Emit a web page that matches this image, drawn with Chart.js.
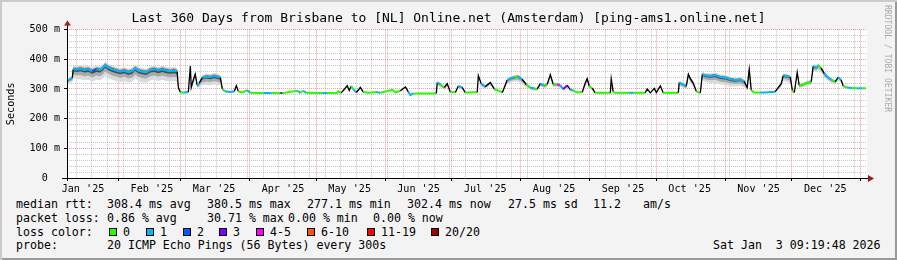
<!DOCTYPE html>
<html>
<head>
<meta charset="utf-8">
<script src="https://cdn.jsdelivr.net/npm/chart.js@4.4.1/dist/chart.umd.min.js"></script>
<style>
  html, body { margin: 0; padding: 0; background: #f3f3f3; }
  #wrap {
    position: relative; width: 897px; height: 260px; overflow: hidden;
    background: #f3f3f3;
    box-shadow: inset 2px 2px 0 #cbcbcb, inset -2px -2px 0 #999;
    font-family: 'DejaVu Sans Mono', monospace;
  }
  #box { position: absolute; left: 0; top: 0; width: 897px; height: 196px; }
  .t { position: absolute; font-size: 11.6px; line-height: 14px; white-space: pre; color: #000; }
  .sw { position: absolute; width: 6px; height: 6px; border: 1px solid #000; }
  #rrd {
    position: absolute; left: 883px; top: 5px; writing-mode: vertical-rl;
    font-size: 8.1px; line-height: 9px; color: #aaa; white-space: pre;
  }
</style>
</head>
<body>
<div id="wrap">
  <div id="box"><canvas id="chart"></canvas></div>
  <div id="rrd">RRDTOOL / TOBI OETIKER</div>

  <div class="t" style="left:16px;top:196.5px">median rtt:</div>
  <div class="t" style="left:107px;top:196.5px">308.4 ms avg</div>
  <div class="t" style="left:207px;top:196.5px">380.5 ms max</div>
  <div class="t" style="left:307px;top:196.5px">277.1 ms min</div>
  <div class="t" style="left:407px;top:196.5px">302.4 ms now</div>
  <div class="t" style="left:508px;top:196.5px">27.5 ms sd</div>
  <div class="t" style="left:593px;top:196.5px">11.2</div>
  <div class="t" style="left:643px;top:196.5px">am/s</div>

  <div class="t" style="left:16px;top:210.5px">packet loss:</div>
  <div class="t" style="left:107px;top:210.5px">0.86 % avg</div>
  <div class="t" style="left:207px;top:210.5px">30.71 % max</div>
  <div class="t" style="left:288px;top:210.5px">0.00 % min</div>
  <div class="t" style="left:373px;top:210.5px">0.00 % now</div>

  <div class="t" style="left:16px;top:224.5px">loss color:</div>
  <div id="lossRow"></div>

  <div class="t" style="left:16px;top:238.2px">probe:</div>
  <div class="t" style="left:107px;top:238.2px">20 ICMP Echo Pings (56 Bytes) every 300s</div>
  <div class="t" style="left:713px;top:238.2px">Sat Jan  3 09:19:48 2026</div>
</div>

<script>
// time axis: days since the start of the 360 day window
const T0 = Date.UTC(2025, 0, 8, 19);
const dayOf = (y, m, d) => (Date.UTC(y, m, d) - T0) / 864e5;

const monthLabels = ["Jan '25", "Feb '25", "Mar '25", "Apr '25", "May '25", "Jun '25",
                     "Jul '25", "Aug '25", "Sep '25", "Oct '25", "Nov '25", "Dec '25"];
const yTicks = [0, 100, 200, 300, 400, 500];

// loss buckets (20 pings)
const lossLabels = ['0', '1', '2', '3', '4-5', '6-10', '11-19', '20/20'];
const lossColors = ['#26ff00', '#00b8ff', '#0059ff', '#7e00ff', '#ff00ff', '#ff5500', '#ff0000', '#a00000'];

// median rtt samples
const days = [
  0, 1.5, 2.4, 2.8, 4.2, 6.0, 7.8, 9.6, 11.4, 13.2,
  15.0, 16.3, 17.2, 18.6, 20.4, 22.2, 24.0, 25.8, 27.6, 29.4,
  30.7, 32.1, 33.9, 35.7, 37.5, 39.3, 41.1, 42.9, 44.7, 46.5,
  48.3, 49.6, 50.1, 51.0, 52.8, 54.6, 55.5, 55.9, 56.8, 57.7,
  58.6, 59.5, 60.9, 62.7, 64.5, 66.3, 68.1, 69.0, 69.9, 71.2,
  73.5, 75.3, 76.2, 77.1, 78.9, 81.1, 82.5, 87, 88.5, 92,
  96, 97, 103.6, 105.0, 106.3, 107.7, 115, 117, 121.6, 122.1,
  123.4, 126.1, 127.0, 127.9, 128.8, 130.2, 132.0, 133.3, 135.6, 139.2,
  141.0, 146.4, 147.8, 150.0, 152.3, 153.6, 154.5, 155.8, 166.2, 166.6,
  168.0, 169.8, 171.1, 172.5, 174.8, 176.1, 177.9, 179.2, 184.6, 185.1,
  186.4, 188.2, 190.5, 192.3, 195.0, 195.9, 198.1, 199.5, 201.3, 203.1,
  204.9, 206.7, 208.5, 210.3, 211.6, 213.0, 214.8, 216.1, 217.5, 218.8,
  220.6, 222.0, 223.3, 225.1, 226.5, 227.8, 229.6, 231.9, 233.2, 234.1,
  235.0, 236.4, 237.7, 244.5, 244.9, 245.8, 246.7, 253, 255, 260.2,
  261.1, 262.5, 264.3, 265.2, 267.0, 268.3, 275.1, 275.5, 277.3, 278.7,
  279.6, 280.5, 281.8, 283.2, 285.0, 285.9, 287.2, 289.5, 291.7, 294.0,
  296.2, 298.5, 300.7, 303.0, 304.8, 306.1, 307.0, 307.9, 309.3, 312,
  314, 318.7, 320.1, 321.4, 322.3, 323.7, 325.5, 326.4, 327.3, 328.6,
  329.5, 331.3, 333.1, 334.9, 335.8, 337.2, 338.1, 339.4, 340.8, 342.1,
  343.9, 345.7, 347.1, 348.4, 349.3, 351.1, 353.4, 355.6, 357.8, 359.6
];
const medianMs = [
  327, 334, 338, 367, 365, 368, 364, 366, 360, 366,
  364, 372, 380, 372, 366, 362, 358, 362, 356, 360,
  370, 362, 358, 356, 364, 366, 362, 366, 362, 360,
  362, 358, 306, 289, 288, 290, 377, 305, 330, 350,
  312, 320, 338, 342, 340, 344, 340, 338, 300, 292,
  290, 292, 311, 292, 288, 296, 287, 286, 286, 286,
  286, 286, 294, 287, 294, 287, 286, 286, 287, 292,
  287, 311, 295, 310, 300, 288, 305, 290, 287, 290,
  287, 297, 288, 294, 307, 290, 279, 285, 285, 322,
  316, 305, 318, 290, 289, 310, 305, 288, 289, 345,
  318, 308, 322, 300, 292, 288, 330, 336, 340, 342,
  332, 315, 305, 302, 300, 318, 312, 316, 348, 316,
  316, 312, 300, 312, 298, 295, 288, 290, 320, 335,
  310, 302, 287, 287, 334, 290, 287, 287, 287, 287,
  300, 287, 302, 288, 310, 287, 287, 322, 315, 310,
  350, 335, 320, 292, 287, 350, 345, 344, 346, 340,
  338, 333, 330, 332, 325, 305, 366, 296, 288, 288,
  288, 291, 305, 318, 345, 344, 340, 295, 288, 356,
  312, 316, 322, 325, 377, 372, 380, 370, 352, 342,
  332, 325, 340, 330, 310, 305, 303, 302, 302, 302
];
// lost pings out of 20 for each sample
const lostPings = [
  1, 1, 1, 1, 1, 1, 1, 1, 2, 1,
  1, 1, 1, 1, 1, 1, 1, 1, 1, 1,
  1, 1, 1, 1, 1, 1, 1, 1, 1, 1,
  1, 1, 1, 0, 1, 0, 1, 3, 1, 0,
  1, 1, 1, 1, 1, 1, 1, 1, 0, 1,
  1, 1, 1, 0, 0, 1, 0, 0, 1, 0,
  3, 0, 1, 0, 1, 0, 1, 0, 0, 0,
  0, 0, 1, 0, 1, 0, 0, 0, 0, 1,
  0, 0, 0, 0, 0, 1, 1, 0, 0, 1,
  0, 1, 0, 0, 0, 1, 0, 0, 0, 1,
  1, 0, 1, 0, 0, 0, 1, 1, 0, 1,
  1, 0, 1, 0, 0, 1, 0, 1, 1, 0,
  5, 1, 3, 5, 1, 0, 0, 0, 1, 1,
  0, 1, 0, 0, 0, 0, 0, 1, 0, 0,
  3, 0, 3, 0, 0, 0, 0, 1, 1, 0,
  1, 1, 1, 0, 0, 1, 1, 1, 1, 1,
  1, 1, 1, 1, 1, 0, 1, 0, 0, 1,
  1, 0, 0, 1, 1, 1, 1, 0, 0, 1,
  0, 0, 0, 1, 1, 1, 0, 1, 1, 1,
  0, 0, 1, 0, 0, 1, 0, 1, 0, 1
];
// depth of the smoke below the median (ms)
const smokeMs = [
  12, 12, 15, 30, 32, 35, 35, 35, 35, 35,
  35, 35, 35, 35, 35, 35, 35, 35, 35, 35,
  35, 35, 35, 35, 35, 35, 35, 35, 35, 35,
  35, 35, 10, 4, 4, 4, 5, 8, 15, 20,
  10, 15, 25, 28, 28, 28, 28, 25, 8, 4,
  4, 4, 5, 3, 3, 3, 2, 2, 2, 2,
  2, 2, 2, 2, 2, 2, 2, 2, 2, 2,
  2, 8, 5, 8, 5, 3, 5, 3, 2, 2,
  2, 3, 2, 3, 4, 3, 2, 2, 2, 10,
  10, 8, 10, 4, 3, 8, 8, 3, 3, 10,
  10, 8, 10, 6, 4, 3, 12, 15, 15, 18,
  15, 10, 8, 8, 6, 10, 10, 10, 12, 10,
  10, 8, 6, 8, 5, 4, 3, 3, 12, 15,
  10, 6, 2, 2, 5, 3, 2, 2, 2, 2,
  3, 2, 3, 2, 4, 2, 2, 12, 12, 12,
  15, 15, 12, 5, 3, 20, 22, 25, 25, 25,
  25, 25, 22, 22, 20, 10, 20, 5, 3, 3,
  3, 3, 8, 12, 18, 20, 20, 5, 3, 10,
  10, 10, 12, 12, 15, 15, 15, 15, 15, 12,
  12, 10, 10, 10, 6, 5, 4, 4, 4, 4
];

function lossBucket(n) {
  if (n <= 3) return n;
  if (n <= 5) return 4;
  if (n <= 10) return 5;
  if (n <= 19) return 6;
  return 7;
}

// legend row for loss colours
const swatchX = [109, 146, 183, 219, 256, 307, 367, 431];
const lossRow = document.getElementById('lossRow');
lossLabels.forEach((lab, i) => {
  const sw = document.createElement('div');
  sw.className = 'sw';
  sw.style.left = swatchX[i] + 'px';
  sw.style.top = '228.3px';
  sw.style.background = lossColors[i];
  lossRow.appendChild(sw);
  const t = document.createElement('div');
  t.className = 't';
  t.style.left = (swatchX[i] + 14) + 'px';
  t.style.top = '224.5px';
  t.textContent = lab;
  lossRow.appendChild(t);
});

// x ticks: weekly minor lines, month starts, mid-month labels
const key = v => v.toFixed(3);
const tickKind = new Map();
const tickLabel = new Map();
for (let d = dayOf(2025, 0, 13); d < 360; d += 7) tickKind.set(key(d), 'week');
for (let m = 1; m <= 12; m++) {
  const d = dayOf(2025, m, 1);
  if (d < 360) tickKind.set(key(d), 'month');
}
monthLabels.forEach((lab, i) => {
  const d = dayOf(2025, i, 16);
  if (!tickKind.has(key(d))) tickKind.set(key(d), 'label');
  tickLabel.set(key(d), lab);
});
const xTickValues = [...tickKind.keys()].map(Number).sort((a, b) => a - b);

const RED = 'rgba(235, 90, 90, 0.6)';
const GRAY = 'rgba(150, 150, 150, 0.55)';
const NONE = 'rgba(0,0,0,0)';

const pts = vals => days.map((d, i) => ({ x: d, y: vals[i] }));
// smoke bands around the median, outer light to inner dark
const band = (up, down) => [
  medianMs.map((v, i) => v + smokeMs[i] * up),
  medianMs.map((v, i) => v - smokeMs[i] * down)
];
const [outerHi, outerLo] = band(0.35, 1.0);
const [midHi, midLo] = band(0.22, 0.6);
const [innerHi, innerLo] = band(0.12, 0.25);

const smokeBase = { pointRadius: 0, borderWidth: 0, borderColor: NONE, tension: 0 };

const frame = {
  id: 'frame',
  beforeDraw(chart) {
    const { ctx, chartArea: a } = chart;
    ctx.save();
    ctx.fillStyle = '#fff';
    ctx.fillRect(a.left, a.top, a.right - a.left, a.bottom - a.top);
    ctx.restore();
  },
  afterDraw(chart) {
    const { ctx, chartArea: a } = chart;
    const bx = Math.round(a.left) + 0.5;
    const by = Math.round(a.bottom) + 0.5;
    ctx.save();
    ctx.strokeStyle = '#000';
    ctx.lineWidth = 1;
    ctx.beginPath();
    ctx.moveTo(a.left - 5, by); ctx.lineTo(a.right + 2, by);
    ctx.moveTo(bx, a.bottom + 3); ctx.lineTo(bx, a.top - 6);
    ctx.stroke();
    ctx.fillStyle = '#9b1c1c';
    ctx.beginPath();
    ctx.moveTo(bx, a.top - 9); ctx.lineTo(bx - 3.5, a.top - 4); ctx.lineTo(bx + 3.5, a.top - 4);
    ctx.closePath(); ctx.fill();
    ctx.beginPath();
    ctx.moveTo(a.right + 7, by); ctx.lineTo(a.right + 1, by - 3.5); ctx.lineTo(a.right + 1, by + 3.5);
    ctx.closePath(); ctx.fill();
    ctx.restore();
  }
};

Chart.defaults.font.family = "'DejaVu Sans Mono', monospace";
Chart.defaults.font.size = 10.15;
Chart.defaults.color = '#000';

new Chart(document.getElementById('chart'), {
  type: 'line',
  data: {
    datasets: [
      {
        // median, drawn on top of the smoke
        data: pts(medianMs),
        order: 0,
        pointRadius: 0,
        borderWidth: 2,
        tension: 0,
        fill: false,
        borderColor: lossColors[0],
        segment: {
          borderColor: c => Math.abs(c.p1.parsed.y - c.p0.parsed.y) > 12
            ? '#000' : lossColors[lossBucket(lostPings[c.p0DataIndex])],
          borderWidth: c => Math.abs(c.p1.parsed.y - c.p0.parsed.y) > 12 ? 1.3 : 2
        }
      },
      { ...smokeBase, order: 6, data: pts(outerHi), fill: false },
      { ...smokeBase, order: 5, data: pts(outerLo), fill: '-1', backgroundColor: '#dadada' },
      { ...smokeBase, order: 4, data: pts(midHi), fill: false },
      { ...smokeBase, order: 3, data: pts(midLo), fill: '-1', backgroundColor: '#a9a9a9' },
      { ...smokeBase, order: 2, data: pts(innerHi), fill: false },
      { ...smokeBase, order: 1, data: pts(innerLo), fill: '-1', backgroundColor: '#4a4a4a' }
    ]
  },
  options: {
    responsive: true,
    maintainAspectRatio: false,
    animation: false,
    events: [],
    layout: { padding: { left: 0, right: 0, top: 0, bottom: 0 } },
    plugins: {
      legend: { display: false },
      tooltip: { enabled: false },
      title: {
        display: true,
        text: 'Last 360 Days from Brisbane to [NL] Online.net (Amsterdam) [ping-ams1.online.net]',
        font: { size: 13, weight: 'normal' },
        color: '#000',
        padding: { top: 11, bottom: 3 }
      }
    },
    scales: {
      x: {
        type: 'linear',
        min: 0,
        max: 360,
        afterBuildTicks: s => { s.ticks = xTickValues.map(v => ({ value: v })); },
        afterFit: s => { s.height = 18; },
        ticks: {
          autoSkip: false, maxRotation: 0, minRotation: 0, padding: 2,
          callback: v => tickLabel.get(key(v)) || ''
        },
        grid: {
          tickLength: 3,
          color: c => {
            const k = tickKind.get(key(c.tick.value));
            return k === 'month' ? RED : k === 'week' ? GRAY : NONE;
          },
          tickColor: c => tickKind.get(key(c.tick.value)) === 'month' ? '#000' : NONE
        },
        border: { display: false, dash: [1, 1] }
      },
      y: {
        min: 0,
        max: 500,
        afterBuildTicks: s => {
          const t = [];
          for (let v = 0; v <= 500; v += 20) t.push({ value: v });
          s.ticks = t;
        },
        afterFit: s => { s.width = 67; },
        ticks: {
          autoSkip: false, padding: 4,
          callback: v => yTicks.includes(v) ? (v === 0 ? '0  ' : v + ' m') : ''
        },
        grid: {
          tickLength: 3,
          color: c => {
            const v = c.tick.value;
            if (v === 0) return NONE;
            return v % 100 === 0 ? RED : GRAY;
          },
          tickColor: c => yTicks.includes(c.tick.value) ? '#000' : NONE
        },
        border: { display: false, dash: [1, 1] },
        title: { display: true, text: 'Seconds', padding: { top: 5, bottom: 0 }, font: { size: 10.15 } }
      },
      yR: {
        position: 'right',
        display: true,
        afterFit: s => { s.width = 30; },
        ticks: { display: false },
        grid: { display: false },
        border: { display: false }
      }
    }
  },
  plugins: [frame]
});
</script>
</body>
</html>
